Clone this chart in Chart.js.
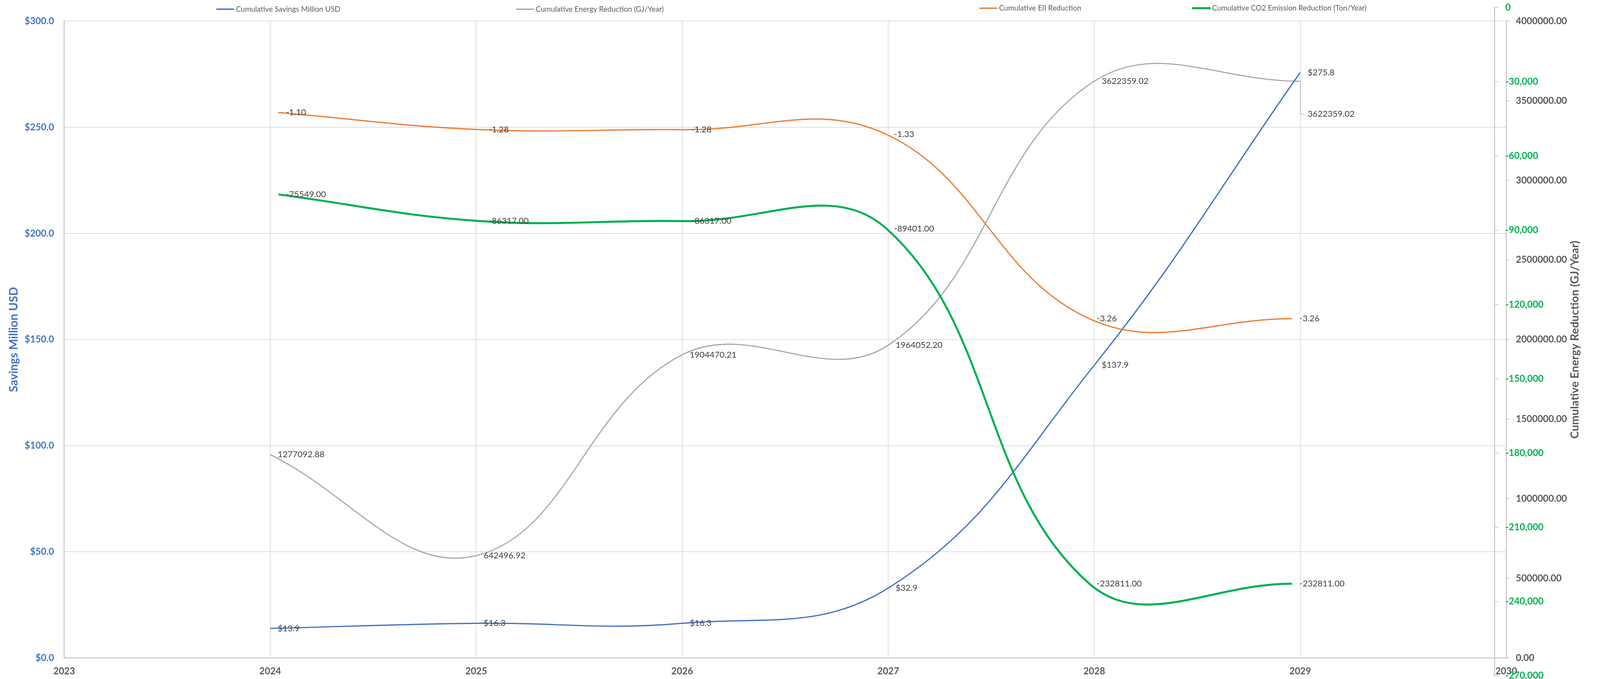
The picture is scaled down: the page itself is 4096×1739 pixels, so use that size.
<!DOCTYPE html>
<html>
<head>
<meta charset="utf-8">
<title>Cumulative Savings and Reductions</title>
<script src="https://cdn.jsdelivr.net/npm/chart.js@4.4.1/dist/chart.umd.min.js"></script>
<style>
  html, body { margin: 0; padding: 0; background: #fff; overflow: hidden; }
  #main-wrap { position: absolute; left: 0; top: 0; width: 4096px; height: 1739px; }
  #over-wrap { position: absolute; left: 0; top: 0; width: 4096px; height: 1779px; }
</style>
</head>
<body>
<div id="main-wrap"><canvas id="mainChart"></canvas></div>
<div id="over-wrap"><canvas id="overChart"></canvas></div>
<script>
// data
const years = [2024, 2025, 2026, 2027, 2028, 2029];
const savings = [13.9, 16.3, 16.3, 32.9, 137.9, 275.8];
const energy = [1277092.88, 642496.92, 1904470.21, 1964052.20, 3622359.02, 3622359.02];
const eii = [-1.10, -1.28, -1.28, -1.33, -3.26, -3.26];
const co2 = [-75549, -86317, -86317, -89401, -232811, -232811];
const seriesNames = [
    'Cumulative Savings Million USD',
    'Cumulative Energy Reduction (GJ/Year)',
    'Cumulative EII Reduction',
    'Cumulative CO2 Emission Reduction (Ton/Year)'
];
const yearRange = [2023, 2030];
const savingsRange = [0, 300, 50];
const energyRange = [0, 4000000, 500000];
const co2Range = [-270000, 0, 30000];
const eiiRange = [-7, 0];

const FONT = "Lato, 'Open Sans', sans-serif";
const GRID = '#D9D9D9';
const AXIS = '#BFBFBF';

const points = vals => years.map((x, i) => ({ x: x, y: vals[i] }));

// fixed axis size, and no extra room for the end labels
const fixSize = (w, h) => s => {
    if (w != null) s.width = w;
    if (h != null) s.height = h;
    s.paddingTop = 0;
    s.paddingBottom = 0;
};

// value labels to the right of each point
const pointLabels = {
    id: 'pointLabels',
    afterDatasetsDraw(chart) {
        const ctx = chart.ctx;
        chart.data.datasets.forEach((ds, i) => {
            const meta = chart.getDatasetMeta(i);
            ctx.save();
            ctx.font = '22px ' + FONT;
            ctx.fillStyle = '#404040';
            ctx.textAlign = 'left';
            ctx.textBaseline = 'middle';
            meta.data.forEach((pt, j) => {
                const shift = (ds.labelShift && ds.labelShift[j]) || 0;
                const y = pt.y + shift;
                if (shift) {
                    ctx.strokeStyle = ds.borderColor;
                    ctx.lineWidth = 1.3;
                    ctx.beginPath();
                    ctx.moveTo(pt.x, pt.y);
                    ctx.lineTo(pt.x, y);
                    ctx.lineTo(pt.x + 11, y);
                    ctx.stroke();
                }
                ctx.fillText(ds.labelFormat(ds.data[j].y), pt.x + 19, y);
            });
            ctx.restore();
        });
    }
};

const lineLegend = {
    id: 'lineLegend',
    afterDraw(chart, args, opts) {
        const ctx = chart.ctx;
        chart.data.datasets.forEach((ds, i) => {
            const [x, y] = opts.at[i];
            ctx.save();
            ctx.strokeStyle = ds.borderColor;
            ctx.lineWidth = ds.borderWidth * 1.1;
            ctx.lineCap = 'round';
            ctx.beginPath();
            ctx.moveTo(x + 2, y);
            ctx.lineTo(x + 45, y);
            ctx.stroke();
            ctx.font = '19px ' + FONT;
            ctx.fillStyle = '#595959';
            ctx.textAlign = 'left';
            ctx.textBaseline = 'middle';
            ctx.fillText(ds.label, x + 51, y);
            ctx.restore();
        });
    }
};

// right axis title reads bottom to top like the left one
const rightTitle = {
    id: 'rightTitle',
    afterDraw(chart) {
        const ctx = chart.ctx;
        ctx.save();
        ctx.translate(4032, 870);
        ctx.rotate(-Math.PI / 2);
        ctx.font = 'bold 29px ' + FONT;
        ctx.fillStyle = '#595959';
        ctx.textAlign = 'center';
        ctx.textBaseline = 'middle';
        ctx.fillText(seriesNames[1], 0, 0);
        ctx.restore();
    }
};

const tickFont = { family: FONT, size: 24, weight: 'bold' };

new Chart(document.getElementById('mainChart'), {
    type: 'line',
    data: {
        datasets: [{
            label: seriesNames[0],
            data: points(savings),
            yAxisID: 'ySavings',
            borderColor: '#4472C4',
            borderWidth: 3.2,
            labelFormat: v => '$' + v.toFixed(1)
        }, {
            label: seriesNames[1],
            data: points(energy),
            yAxisID: 'yEnergy',
            borderColor: '#A5A5A5',
            borderWidth: 2.8,
            labelFormat: v => v.toFixed(2),
            labelShift: [0, 0, 0, 0, 0, 84]
        }]
    },
    options: {
        responsive: true,
        maintainAspectRatio: false,
        animation: false,
        layout: { padding: { top: 54.2, left: 0, right: 0, bottom: 0 } },
        elements: { point: { radius: 0, hoverRadius: 0 }, line: { tension: 0.4, fill: false } },
        plugins: {
            legend: { display: false },
            tooltip: { enabled: false },
            lineLegend: { at: [[553, 23.6], [1320.6, 23.6]] }
        },
        scales: {
            x: {
                type: 'linear',
                min: yearRange[0],
                max: yearRange[1],
                ticks: { stepSize: 1, autoSkip: false, maxRotation: 0, callback: v => String(v), color: '#595959', font: tickFont, padding: 20 },
                grid: { color: GRID, lineWidth: 1.7, drawTicks: false },
                border: { color: AXIS, width: 2.2 },
                afterFit: s => { s.height = 54; }
            },
            ySavings: {
                position: 'left',
                min: savingsRange[0],
                max: savingsRange[1],
                ticks: { stepSize: savingsRange[2], callback: v => '$' + v.toFixed(1), color: '#4472C4', font: tickFont, padding: 26 },
                grid: { color: GRID, lineWidth: 1.7, drawTicks: false },
                border: { color: AXIS, width: 2.2 },
                title: {
                    display: true,
                    text: 'Savings Million USD',
                    color: '#4472C4',
                    font: { family: FONT, size: 30, weight: 'bold' },
                    padding: { top: 17, bottom: 0 }
                },
                afterFit: fixSize(164.3, null)
            },
            yEnergy: {
                position: 'right',
                min: energyRange[0],
                max: energyRange[1],
                ticks: { stepSize: energyRange[2], callback: v => v.toFixed(2), color: '#595959', font: tickFont, padding: 16.5 },
                grid: { drawOnChartArea: false, drawTicks: true, tickLength: 8, color: AXIS, lineWidth: 1.7 },
                border: { color: AXIS, width: 2.2 },
                afterFit: fixSize(240, null)
            }
        }
    },
    plugins: [pointLabels, lineLegend, rightTitle]
});

// second chart laid over the first, as in the source workbook
new Chart(document.getElementById('overChart'), {
    type: 'line',
    data: {
        datasets: [{
            label: seriesNames[2],
            data: points(eii),
            yAxisID: 'yEii',
            borderColor: '#ED7D31',
            borderWidth: 3.2,
            labelFormat: v => v.toFixed(2)
        }, {
            label: seriesNames[3],
            data: points(co2),
            yAxisID: 'yCo2',
            borderColor: '#00B050',
            borderWidth: 5.2,
            labelFormat: v => v.toFixed(2)
        }]
    },
    options: {
        responsive: true,
        maintainAspectRatio: false,
        animation: false,
        layout: { padding: { top: 19.2, left: 194, right: 0, bottom: 48.5 } },
        elements: { point: { radius: 0, hoverRadius: 0 }, line: { tension: 0.4, fill: false } },
        plugins: {
            legend: { display: false },
            tooltip: { enabled: false },
            lineLegend: { at: [[2506.6, 21], [3052, 21]] }
        },
        scales: {
            x: { type: 'linear', min: yearRange[0], max: yearRange[1], display: false },
            yEii: { position: 'left', min: eiiRange[0], max: eiiRange[1], display: false },
            yCo2: {
                position: 'right',
                min: co2Range[0],
                max: co2Range[1],
                ticks: { stepSize: co2Range[2], callback: v => v.toLocaleString('en-US'), color: '#00B050', font: tickFont, padding: 18 },
                grid: { drawOnChartArea: false, drawTicks: true, tickLength: 9, color: AXIS, lineWidth: 1.7 },
                border: { color: AXIS, width: 2.2 },
                afterFit: fixSize(269.6, null)
            }
        }
    },
    plugins: [pointLabels, lineLegend]
});
</script>
</body>
</html>
